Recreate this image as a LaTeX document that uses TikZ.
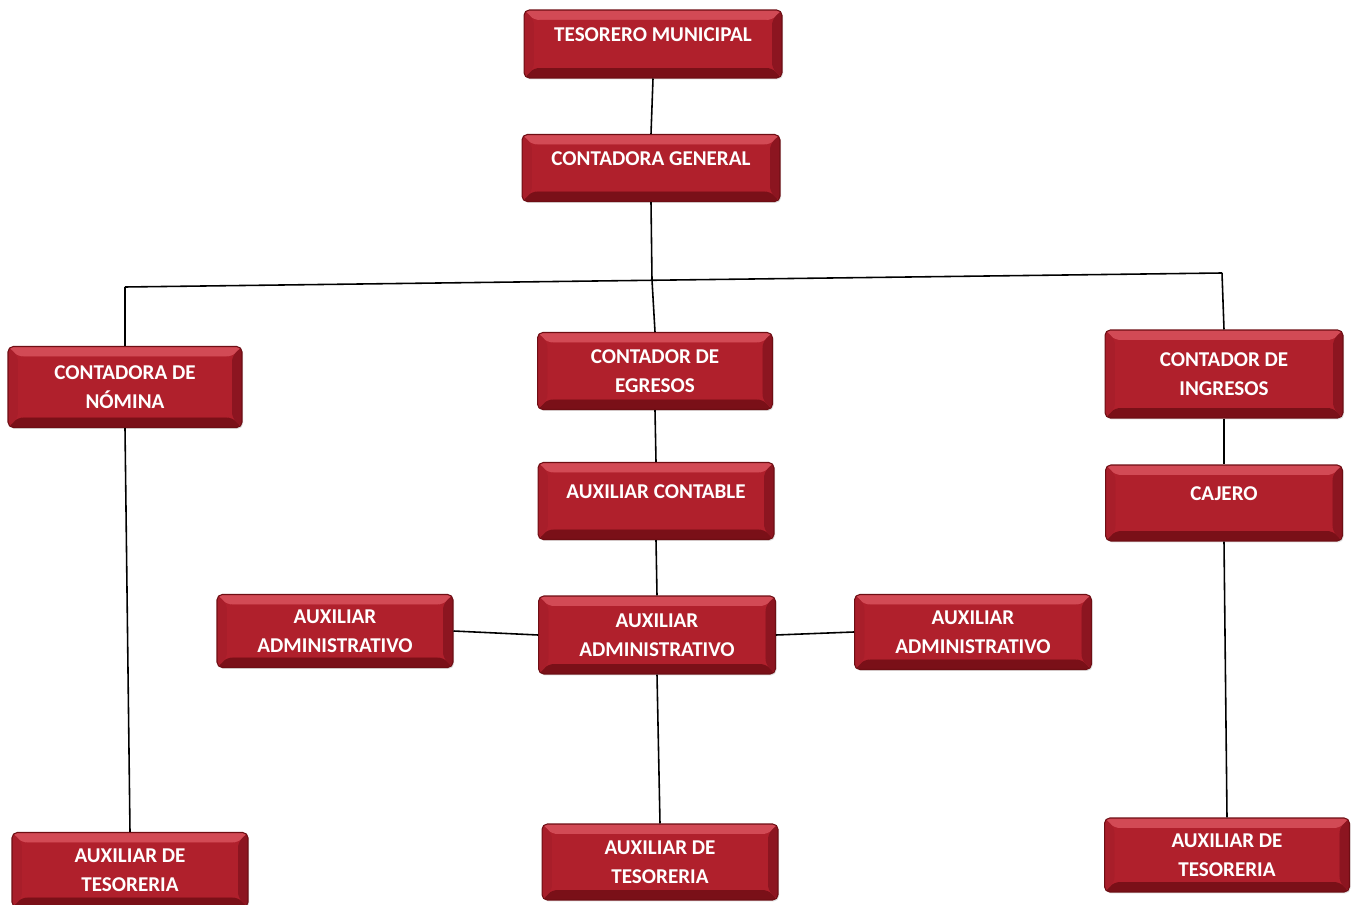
\documentclass[tikz,border=0pt]{standalone}
\usepackage{fontspec}
\setmainfont{Carlito}
\usetikzlibrary{shadows}
\definecolor{face}{HTML}{B0202C}
\definecolor{bvtop}{HTML}{D24A55}
\definecolor{bvbot}{HTML}{7A1018}
\definecolor{bvleft}{HTML}{A81E2A}
\definecolor{bvright}{HTML}{8C1520}
\definecolor{rim}{HTML}{6E0E14}
\tikzset{
  bevelbox/.style={rectangle, rounded corners=3pt, draw=rim, line width=0.6pt,
    fill=face, text=white, font=\fontsize{12}{16.5}\selectfont\bfseries,
    align=center, inner sep=0pt,
    minimum width=4.72cm, minimum height=1.52cm,
    drop shadow={opacity=0.25, shadow xshift=0.6pt, shadow yshift=-0.8pt},
    path picture={
      \coordinate (nw) at (path picture bounding box.north west);
      \coordinate (ne) at (path picture bounding box.north east);
      \coordinate (sw) at (path picture bounding box.south west);
      \coordinate (se) at (path picture bounding box.south east);
      \coordinate (inw) at ([xshift=0.2cm,yshift=-0.2cm]nw);
      \coordinate (ine) at ([xshift=-0.2cm,yshift=-0.2cm]ne);
      \coordinate (isw) at ([xshift=0.2cm,yshift=0.2cm]sw);
      \coordinate (ise) at ([xshift=-0.2cm,yshift=0.2cm]se);
      \fill[bvtop] (nw) -- (ne) -- (ine) -- (inw) -- cycle;
      \fill[bvbot] (sw) -- (se) -- (ise) -- (isw) -- cycle;
      \fill[bvleft] (nw) -- (sw) -- (isw) -- (inw) -- cycle;
      \fill[bvright] (ne) -- (se) -- (ise) -- (ine) -- cycle;
      \fill[face] (inw) rectangle (ise);
    }},
  oneline/.style={text height=0.27cm, text depth=0.38cm},
  link/.style={draw=black, line width=0.9pt}
}
\begin{document}
\begin{tikzpicture}[x=0.02cm,y=-0.02cm]
\useasboundingbox (0,0) rectangle (1356,905);
\node[bevelbox, oneline, minimum width=5.16cm, minimum height=1.36cm] (tes) at (653,44) {TESORERO MUNICIPAL};
\node[bevelbox, oneline, minimum width=5.16cm, minimum height=1.34cm] (cg) at (651,168) {CONTADORA GENERAL};
\node[bevelbox, minimum width=4.68cm, minimum height=1.62cm] (nom) at (125,387) {CONTADORA DE\\NÓMINA};
\node[bevelbox, minimum width=4.70cm, minimum height=1.54cm] (egr) at (655,371) {CONTADOR DE\\EGRESOS};
\node[bevelbox, minimum width=4.76cm, minimum height=1.76cm] (ing) at (1224,374) {CONTADOR DE\\INGRESOS};
\node[bevelbox, oneline, minimum width=4.72cm, minimum height=1.54cm] (ac) at (656,501) {AUXILIAR CONTABLE};
\node[bevelbox, oneline, minimum width=4.74cm, minimum height=1.52cm] (caj) at (1224,503) {CAJERO};
\node[bevelbox, minimum width=4.72cm, minimum height=1.46cm] (aal) at (335,631) {AUXILIAR\\ADMINISTRATIVO};
\node[bevelbox, minimum width=4.74cm, minimum height=1.56cm] (aam) at (657,635) {AUXILIAR\\ADMINISTRATIVO};
\node[bevelbox, minimum width=4.74cm, minimum height=1.50cm] (aar) at (973,632) {AUXILIAR\\ADMINISTRATIVO};
\node[bevelbox, minimum width=4.72cm, minimum height=1.50cm] (atl) at (130,870) {AUXILIAR DE\\TESORERIA};
\node[bevelbox, minimum width=4.72cm, minimum height=1.52cm] (atm) at (660,862) {AUXILIAR DE\\TESORERIA};
\node[bevelbox, minimum width=4.90cm, minimum height=1.48cm] (atr) at (1227,855) {AUXILIAR DE\\TESORERIA};
% bus
\coordinate (busc) at (652,280);
\coordinate (busl) at (125,287);
\coordinate (busr) at (1222,273);
\draw[link] (tes.south) -- (cg.north);
\draw[link] (cg.south) -- (busc);
\draw[link] (busl) -- (busr);
\draw[link] (busl) -- (nom.north);
\draw[link] (busc) -- (egr.north);
\draw[link] (busr) -- (ing.north);
\draw[link] (nom.south) -- (atl.north);
\draw[link] (egr.south) -- (ac.north);
\draw[link] (ac.south) -- (aam.north);
\draw[link] (aam.south) -- (atm.north);
\draw[link] (ing.south) -- (caj.north);
\draw[link] (caj.south) -- (atr.north);
\draw[link] (aal.east) -- (aam.west);
\draw[link] (aam.east) -- (aar.west);
\end{tikzpicture}
\end{document}
